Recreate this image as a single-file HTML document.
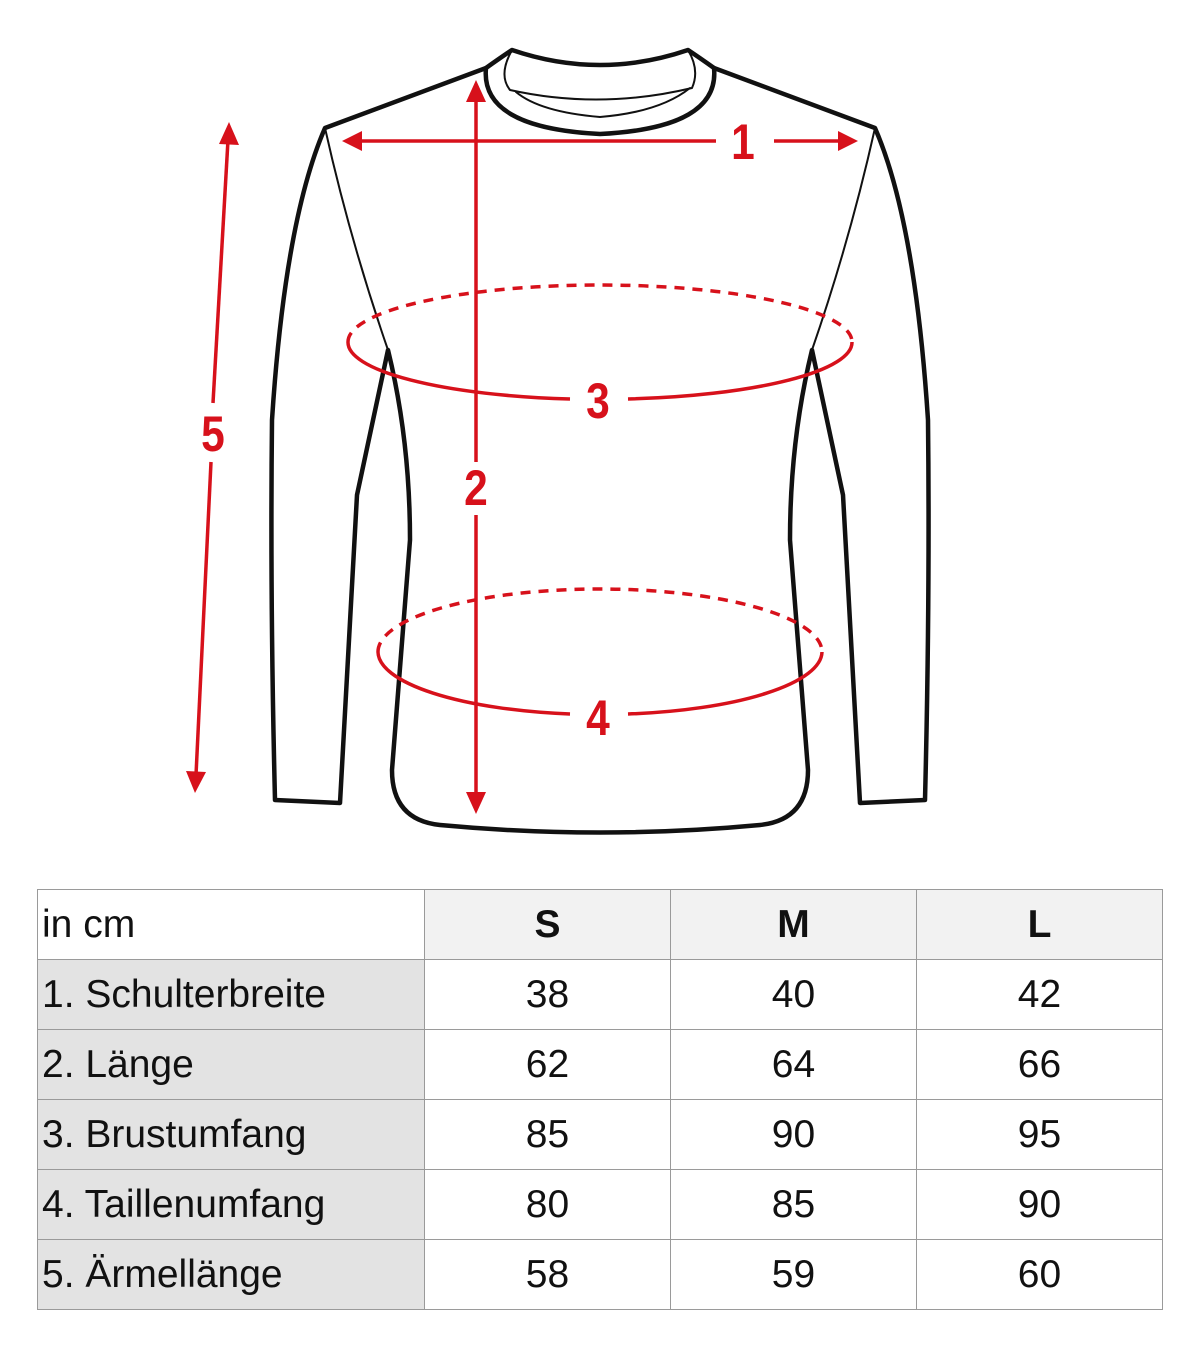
<!DOCTYPE html>
<html><head><meta charset="utf-8"><style>
body{margin:0;background:#fff;width:1200px;height:1349px;overflow:hidden;font-family:"Liberation Sans",sans-serif}
svg{position:absolute;left:0;top:0}
table{position:absolute;left:37px;top:889px;border-collapse:collapse;font-size:39px;color:#111;table-layout:fixed;width:1125px}
td{border:1px solid #9a9a9a;height:69px;padding:0;text-align:center}
td.l{text-align:left;padding-left:4px;background:#e3e3e3;font-weight:normal}
tr.h td{background:#f2f2f2;font-weight:bold}
tr.h td.l{background:#fff;font-weight:normal}
</style></head><body>
<svg width="1200" height="880" viewBox="0 0 1200 880">
<g fill="none" stroke="#111" stroke-linejoin="round" stroke-linecap="round">
<path stroke-width="4.5" d="M486,68 L325,128 Q285,220 272,420 Q270,600 275,800 L340,803 L357,495 L388,350 Q410,440 410,540 L392,770 Q392,820 440,825 Q600,840 760,825 Q808,820 808,770 L790,540 Q790,440 812,350 L843,495 L860,803 L925,800 Q930,600 928,420 Q915,220 875,128 L714,68"/>
<path stroke-width="4.5" d="M486,68 Q480,128 600,134 Q720,128 714,68 Q700,58 688,50 Q600,80 512,50 Q500,58 486,68Z"/>
<path stroke-width="2" d="M512,50 Q498,75 510,90 Q600,110 692,88 Q700,70 688,50"/>
<path stroke-width="2" d="M516,92 Q540,112 600,117 Q660,112 690,88"/>
<path stroke-width="2" d="M325,128 Q350,240 388,350"/>
<path stroke-width="2" d="M875,128 Q850,240 812,350"/>
</g>
<g stroke="#d7111b" fill="none" stroke-width="3.5">
<line x1="360" y1="141" x2="716" y2="141"/>
<line x1="774" y1="141" x2="840" y2="141"/>
<line x1="476" y1="100" x2="476" y2="462"/>
<line x1="476" y1="515" x2="476" y2="795"/>
<line x1="228" y1="140" x2="213" y2="403"/>
<line x1="211" y1="462" x2="196" y2="775"/>
<path d="M348,342 A252,57 0 0 0 570,399"/>
<path d="M628,399 A252,57 0 0 0 852,342"/>
<path stroke-dasharray="10,8" d="M348,342 A252,57 0 0 1 852,342"/>
<path d="M378,652 A222,63 0 0 0 570,714"/>
<path d="M628,714 A222,63 0 0 0 822,652"/>
<path stroke-dasharray="10,8" d="M378,652 A222,63 0 0 1 822,652"/>
</g>
<g fill="#d7111b">
<polygon points="342,141 362,131 362,151"/>
<polygon points="858,141 838,131 838,151"/>
<polygon points="476,80 466,102 486,102"/>
<polygon points="476,814 466,792 486,792"/>
<polygon points="229,122 219,144 239,145"/>
<polygon points="195,793 186,771 206,772"/>
</g>
<g fill="#d7111b" font-weight="bold" font-size="50" text-anchor="middle" font-family="Liberation Sans,sans-serif">
<text x="743" y="159" transform="translate(743 0) scale(0.85 1) translate(-743 0)">1</text>
<text x="476" y="505" transform="translate(476 0) scale(0.85 1) translate(-476 0)">2</text>
<text x="598" y="418" transform="translate(598 0) scale(0.85 1) translate(-598 0)">3</text>
<text x="598" y="735" transform="translate(598 0) scale(0.85 1) translate(-598 0)">4</text>
<text x="213" y="451" transform="translate(213 0) scale(0.85 1) translate(-213 0)">5</text>
</g>
</svg>
<table>
<colgroup><col style="width:387px"><col style="width:246px"><col style="width:246px"><col style="width:246px"></colgroup>
<tr class="h"><td class="l">in cm</td><td>S</td><td>M</td><td>L</td></tr>
<tr><td class="l">1. Schulterbreite</td><td>38</td><td>40</td><td>42</td></tr>
<tr><td class="l">2. Länge</td><td>62</td><td>64</td><td>66</td></tr>
<tr><td class="l">3. Brustumfang</td><td>85</td><td>90</td><td>95</td></tr>
<tr><td class="l">4. Taillenumfang</td><td>80</td><td>85</td><td>90</td></tr>
<tr><td class="l">5. Ärmellänge</td><td>58</td><td>59</td><td>60</td></tr>
</table>
</body></html>
